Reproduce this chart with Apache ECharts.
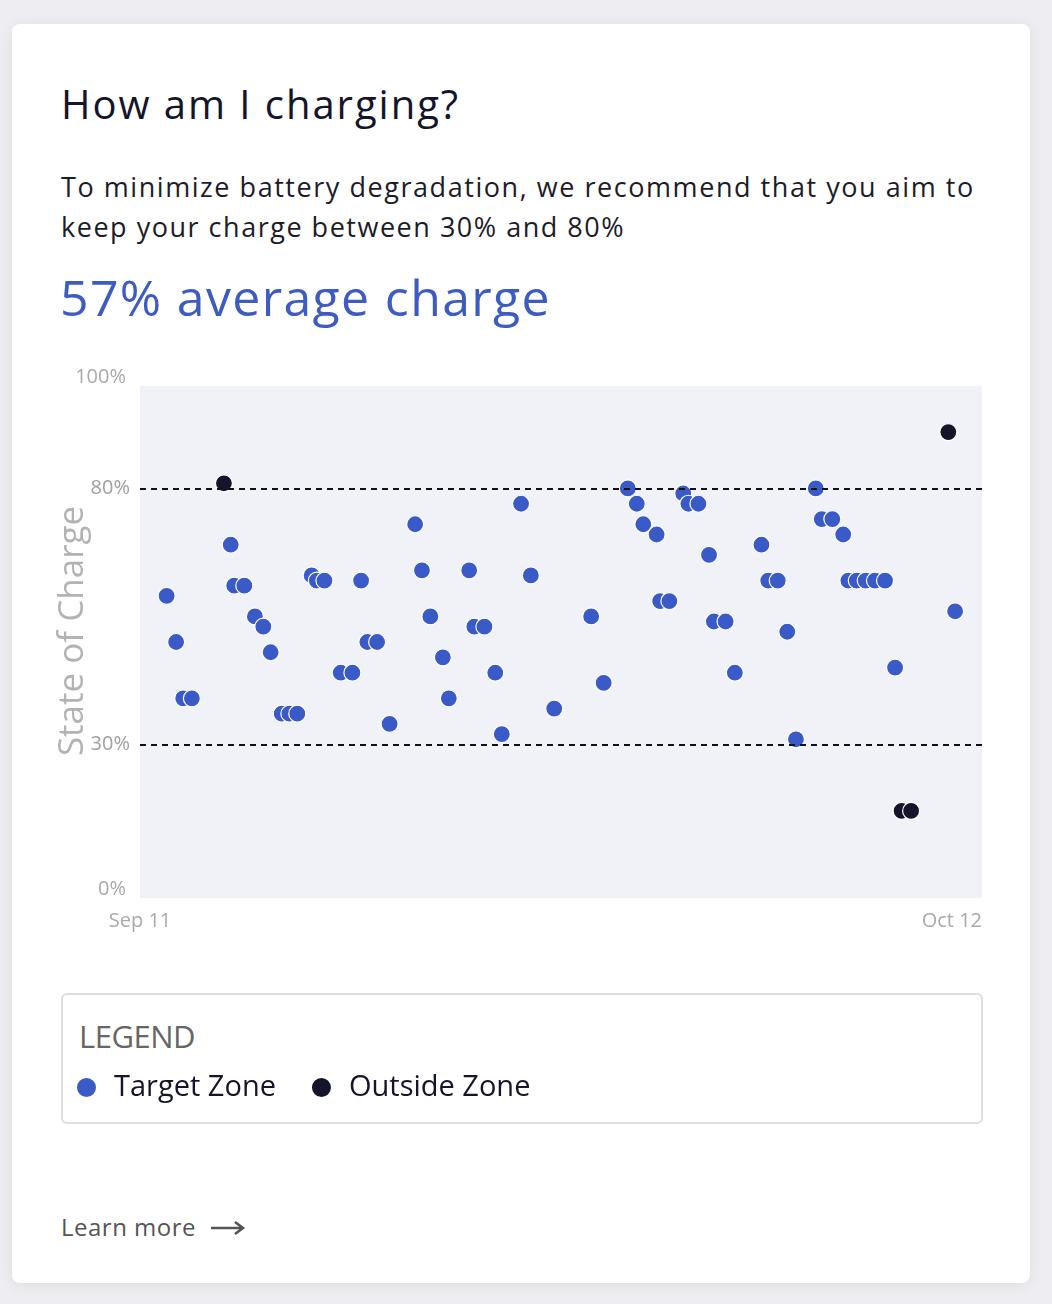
<!DOCTYPE html>
<html>
<head>
<meta charset="utf-8">
<script src="https://cdn.jsdelivr.net/npm/echarts@6/dist/echarts.min.js"></script>
<style>
  html,body{margin:0;padding:0;width:1052px;height:1304px;background:#eeeef2;overflow:hidden;font-family:"Open Sans","Noto Sans",sans-serif;}
  .card{position:absolute;left:12px;top:24px;width:1018px;height:1259px;background:#fff;border-radius:8px;box-shadow:0 2px 16px rgba(0,0,0,0.07);}
  .t{position:absolute;white-space:nowrap;}
  #title{left:61px;top:76px;font-size:40px;font-weight:500;color:#14152a;}
  #sub1{left:61px;top:168px;font-size:27px;color:#1c1c28;}
  #sub2{left:61px;top:208px;font-size:27px;color:#1c1c28;}
  #avg{left:60px;top:263px;font-size:50px;color:#3d5bc0;}
  .legbox{position:absolute;left:61px;top:993px;width:918px;height:127px;border:2px solid #dedede;border-radius:6px;}
  #legtitle{left:79px;top:1015px;font-size:31px;color:#666;}
  #learn{left:61px;top:1210px;font-size:24px;color:#555;}
  #arrow{position:absolute;left:210px;top:1219px;}
  #chart{position:absolute;left:0;top:0;width:1052px;height:1304px;}
</style>
</head>
<body>
<div class="card"></div>
<div class="t" id="title">How am I charging?</div>
<div class="t" id="sub1">To minimize battery degradation, we recommend that you aim to</div>
<div class="t" id="sub2">keep your charge between 30% and 80%</div>
<div class="t" id="avg">57% average charge</div>
<div class="legbox"></div>
<div class="t" id="legtitle">LEGEND</div>
<div class="t" id="learn">Learn more</div>
<svg id="arrow" width="36" height="18" viewBox="0 0 36 18"><path d="M1 9 H32 M25 3 L33 9 L25 15" fill="none" stroke="#555" stroke-width="2.6" stroke-linejoin="miter"/></svg>
<div id="chart"></div>
<script>
// ---- data ----
// days since Sep 11 (fractional)
const sessionDays = [0.98,1.33,1.59,1.91,3.09,3.34,3.47,3.84,4.23,4.54,4.81,5.22,5.50,5.79,6.32,6.51,6.79,7.39,7.82,8.14,8.37,8.73,9.19,10.13,10.38,10.69,11.15,11.37,12.12,12.31,12.68,13.08,13.32,14.03,14.39,15.25,16.61,17.07,17.96,18.29,18.53,19.02,19.15,19.49,20.00,20.19,20.56,20.95,21.13,21.56,21.90,22.88,23.13,23.48,23.83,24.15,24.88,25.10,25.49,25.89,26.08,26.39,26.72,27.06,27.43,27.80,28.04,28.39,29.76,30.01];
// state of charge (%)
const sessionCharge = [59,50,39,39,81,69,61,61,55,53,48,36,36,36,63,62,62,44,44,62,50,50,34,73,64,55,47,39,64,53,53,44,32,77,63,37,55,42,80,77,73,71,58,58,79,77,77,67,54,54,44,69,62,62,52,31,80,74,74,71,62,62,62,62,62,45,17,17,91,56];
const xTickLabels = {0:'Sep 11', 31:'Oct 12'};
const yTickValues = [0,30,80,100];
const zoneLimits = [30,80];
const seriesNames = ['Target Zone','Outside Zone'];

// fit HTML text widths to the reference (font substitute for Poppins)
function fitWidth(id, target){
  const el = document.getElementById(id);
  const w = el.getBoundingClientRect().width;
  const n = el.textContent.length;
  el.style.letterSpacing = ((target - w)/n).toFixed(2)+'px';
}
fitWidth('title',399); fitWidth('sub1',914); fitWidth('sub2',564);
fitWidth('avg',491); fitWidth('legtitle',116); fitWidth('learn',135);

const targetData = [], outsideData = [];
sessionDays.forEach((d,i)=>{
  const v = sessionCharge[i];
  if (v>=zoneLimits[0] && v<=zoneLimits[1]) targetData.push([d,v]); else outsideData.push([d,v]);
});

const chart = echarts.init(document.getElementById('chart'));
const font = '"Open Sans","Noto Sans",sans-serif';
chart.setOption({
  animation:false,
  textStyle:{fontFamily:font},
  grid:{left:140,right:70,top:386,bottom:406,show:true,backgroundColor:'#f0f2f7',borderWidth:0},
  legend:{
    left:70, top:1068, itemGap:34, itemWidth:21, itemHeight:21, icon:'circle',
    textStyle:{fontSize:29,color:'#14152a',fontFamily:font,padding:[0,0,0,12]},
    data:seriesNames
  },
  xAxis:{
    type:'value', min:0, max:31, interval:31,
    axisLine:{show:false}, axisTick:{show:false}, splitLine:{show:false},
    axisLabel:{color:'#a9a9a9',fontSize:20,margin:13,alignMaxLabel:'right',
      formatter:v=>xTickLabels[v]||''}
  },
  yAxis:{
    type:'value', min:0, max:100, interval:10,
    name:'State of Charge', nameLocation:'middle', nameGap:49, nameMoveOverlap:false,
    nameTextStyle:{fontSize:35,color:'#b3b3b3',fontFamily:font,padding:[0,0,0,22]},
    axisLine:{show:false}, axisTick:{show:false}, splitLine:{show:false},
    axisLabel:{color:'#a0a0a0',fontSize:20,margin:10,
      formatter:v=>{
        if(yTickValues.indexOf(v)<0) return '';
        if(v===0||v===100) return '{e|'+v+'%}';
        return v+'%';
      },
      rich:{e:{fontSize:20,color:'#a9a9a9',padding:[0,4,18,0]}}
    }
  },
  series:[
    {name:seriesNames[0],type:'scatter',data:targetData,symbolSize:17,
     itemStyle:{color:'#3a5bc7',borderColor:'#ffffff',borderWidth:1.2,opacity:1},
     markLine:{silent:true,symbol:'none',label:{show:false},
       lineStyle:{color:'#111111',type:[6,5],width:1.8},
       data:zoneLimits.map(v=>({yAxis:v}))}},
    {name:seriesNames[1],type:'scatter',data:outsideData,symbolSize:17,
     itemStyle:{color:'#14152a',borderColor:'#ffffff',borderWidth:1.2,opacity:1}}
  ]
});
</script>
</body>
</html>
